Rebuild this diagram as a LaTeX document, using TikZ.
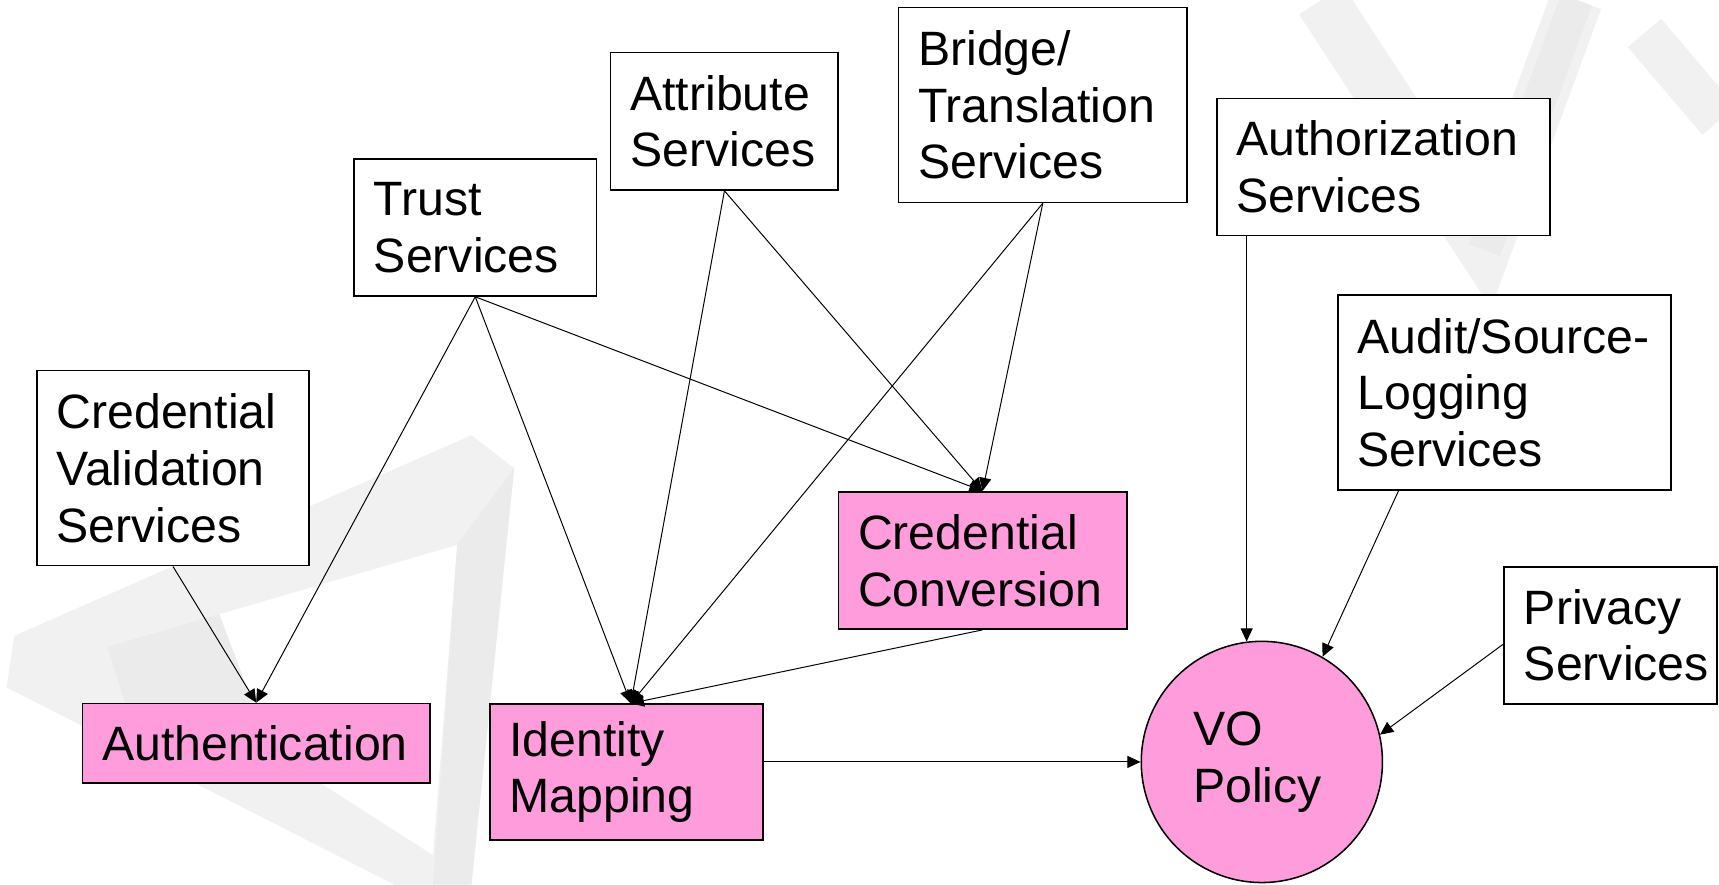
\documentclass[tikz,border=0pt]{standalone}
\usepackage{fontspec}
\setmainfont{Liberation Sans}
\usetikzlibrary{arrows.meta,calc}
\definecolor{boxpink}{HTML}{FF9CDC}
\definecolor{wmark}{HTML}{F1F1F1}
\definecolor{wmarkdark}{HTML}{EBEBEB}
\hyphenpenalty=10000\relax
\exhyphenpenalty=10000\relax
\newcommand{\dgmfont}{\fontsize{44}{51.7}\selectfont}
\begin{document}
\begin{tikzpicture}[x=1pt,y=-1pt,
  every node/.style={font=\dgmfont},
  svcbox/.style={draw, line width=1.4pt, rectangle, align=left, inner xsep=18pt, inner ysep=0pt, fill=white},
  pinkbox/.style={svcbox, fill=boxpink},
  conn/.style={line width=0.9pt, -{Triangle[length=12pt,width=11pt]}}
]
\useasboundingbox (0,0) rectangle (1568,807);
% faint watermark (impossible triangle, lower left)
\fill[wmark, even odd rule] (6,627) -- (13,580) -- (430,397) -- (469,427) -- (430,807) -- (360,807) -- cycle
  (98,590) -- (417,497) -- (395,780) -- cycle;
\fill[wmarkdark] (417,497) -- (469,427) -- (430,807) -- (395,807) -- cycle;
\fill[wmarkdark] (98,590) -- (200,560) -- (230,640) -- (120,660) -- cycle;
% faint watermark (upper right)
\draw[wmark, line width=48pt] (1205,0) -- (1354,228) -- (1438,0);
\draw[wmarkdark, line width=30pt] (1438,0) -- (1354,228);
\draw[wmark, line width=40pt] (1500,30) -- (1568,110);

% nodes
\node[svcbox, text width=212.5pt, minimum height=178pt] (credval) at (157.8,427) {Credential\\Validation\\Services};
\node[svcbox, text width=185pt, minimum height=125pt] (trust) at (433.5,207.5) {Trust\\Services};
\node[svcbox, text width=171.6pt, minimum height=125.3pt] (attr) at (660.8,110.7) {Attribute\\Services};
\node[svcbox, text width=227.3pt, minimum height=177.9pt] (bridge) at (951.2,95.7) {Bridge/\\Translation\\Services};
\node[svcbox, text width=268.1pt, minimum height=124.9pt] (authz) at (1261.9,152.2) {Authorization\\Services};
\node[svcbox, text width=267.7pt, minimum height=178pt] (audit) at (1372.2,358) {Audit/Source-\\Logging\\Services};
\node[svcbox, text width=158pt, minimum height=125pt] (privacy) at (1469,579.5) {Privacy\\Services};
\node[pinkbox, text width=227.1pt, minimum height=125.3pt] (credconv) at (896.2,511.2) {Credential\\Conversion};
\node[pinkbox, text width=281.3pt, minimum height=72.4pt] (authn) at (233.7,677.8) {Authentication};
\node[pinkbox, text width=213.2pt, minimum height=124.1pt] (idmap) at (571.4,704.3) {Identity\\Mapping};
\node[draw, line width=1.4pt, circle, fill=boxpink, minimum size=220pt, inner sep=0pt, align=left] (vo) at (1151,695) {\hspace*{-8pt}VO\\\hspace*{-8pt}Policy};

\coordinate (imtop) at ($(idmap.north)+(4,0)$);
\coordinate (authzout) at ($(authz.south west)+(28,0)$);
\coordinate (auditout) at ($(audit.south west)+(56,0)$);
\coordinate (privout) at ($(privacy.west)+(0,8)$);

% connectors
\draw[conn] (credval.south) -- (authn.north);
\draw[conn] (trust.south) -- (authn.north);
\draw[conn] (trust.south) -- (imtop);
\draw[conn] (trust.south) -- (credconv.north);
\draw[conn] (attr.south) -- (imtop);
\draw[conn] (attr.south) -- (credconv.north);
\draw[conn] (bridge.south) -- (imtop);
\draw[conn] (bridge.south) -- (credconv.north);
\draw[conn] (credconv.south) -- (imtop);
\draw[conn] (vo.west -| idmap.east) -- (vo.west);
\draw[conn] (authzout) -- (authzout |- vo.97);
\draw[conn] (auditout) -- (vo.60);
\draw[conn] (privout) -- (vo.13);
\end{tikzpicture}
\end{document}
